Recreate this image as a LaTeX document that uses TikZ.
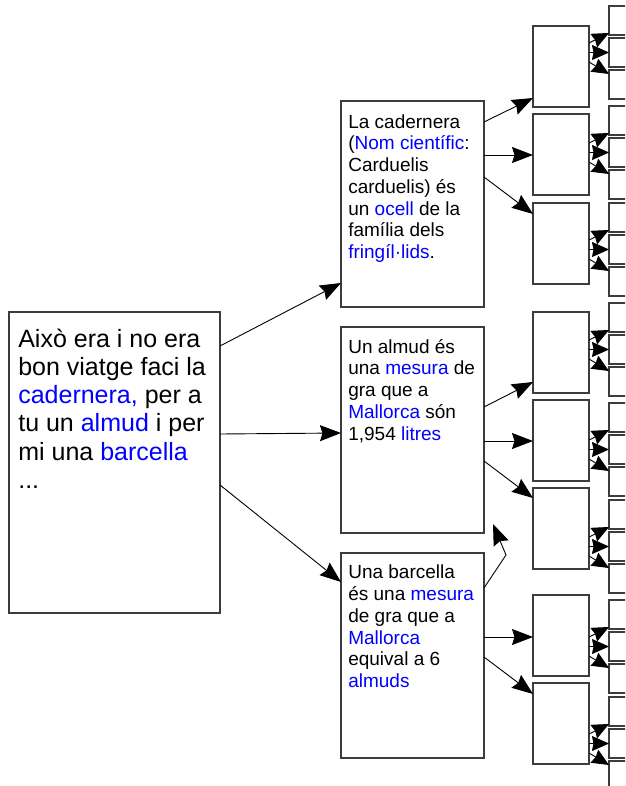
\documentclass[tikz,border=0pt]{standalone}
\usepackage{fontspec}
\setmainfont{Liberation Sans}
\usetikzlibrary{arrows.meta,calc}
\definecolor{lnk}{RGB}{0,0,255}
\definecolor{bord}{RGB}{60,60,60}
\newcommand{\lk}[1]{\textcolor{lnk}{#1}}
\begin{document}
\begin{tikzpicture}[x=1pt,y=-1pt,
  box/.style={draw=bord, line width=1.2pt, inner sep=0pt, outer sep=0pt, anchor=north west, fill=white},
  txt/.style={anchor=north west, inner sep=0pt, outer sep=0pt, align=left},
  bigtxt/.style={txt, font=\fontsize{25}{28.3}\selectfont},
  midtxt/.style={txt, font=\fontsize{19}{21.7}\selectfont},
  arr/.style={draw=black, line width=0.9pt, -{Stealth[length=21pt,width=16pt,inset=2.5pt]}},
  sarr/.style={draw=black, line width=0.9pt, -{Stealth[length=17pt,width=15pt,inset=1.5pt]}}
]
\useasboundingbox (0,0) rectangle (625,786);
\clip (0,0) rectangle (625,786);

% root box
\node[box, minimum width=211pt, minimum height=301pt] (r) at (9,312) {};
\node[bigtxt] (rt) at (18.3,327.2) {\strut Això era i no era\\bon viatge faci la\\\lk{cadernera,} per a\\tu un \lk{almud} i per\\mi una \lk{barcella}\\...};

% level 1 boxes
\node[box, minimum width=143pt, minimum height=206pt] (a) at (341,101) {};
\node[box, minimum width=143pt, minimum height=206pt] (b) at (341,327) {};
\node[box, minimum width=143pt, minimum height=205pt] (c) at (341,553) {};
\node[midtxt] (at) at (348.3,113.1) {\strut La cadernera\\(\lk{Nom científic}:\\Carduelis\\carduelis) és\\un \lk{ocell} de la\\família dels\\\lk{fringíl·lids}.};
\node[midtxt] (bt) at (348.3,338.1) {\strut Un almud és\\una \lk{mesura} de\\gra que a\\\lk{Mallorca} són\\1,954 \lk{litres}};
\node[midtxt] (ct) at (348.3,563.8) {\strut Una barcella\\és una \lk{mesura}\\de gra que a\\\lk{Mallorca}\\equival a 6\\\lk{almuds}};

% level 2 boxes
\foreach \i/\t in {1/26,2/114,3/203,4/312,5/400,6/488,7/595,8/683}
  \node[box, minimum width=56pt, minimum height=81pt] (m\i) at (533,\t) {};

% level 3 boxes
\foreach \i/\g in {1/6,2/106,3/203,4/303,5/403,6/500,7/600,8/697} {
  \node[box, minimum width=45pt, minimum height=29pt] (s\i-a) at (609,\g) {};
  \node[box, minimum width=45pt, minimum height=29pt] (s\i-b) at (609,\g+32) {};
  \node[box, minimum width=45pt, minimum height=29pt] (s\i-c) at (609,\g+64) {};
}

% root -> level 1
\draw[arr] ($(r.north east)+(0,34)$) -- ($(a.north west)+(0,182)$);
\draw[arr] ($(r.north east)+(0,122)$) -- ($(b.north west)+(0,106)$);
\draw[arr] ($(r.north east)+(0,173)$) -- ($(c.north west)+(0,29)$);

% level 1 -> level 2
\draw[arr] ($(a.north east)+(0,21)$) -- ($(m1.north west)+(0,72)$);
\draw[arr] ($(a.north east)+(0,54)$) -- ($(m2.north west)+(0,41)$);
\draw[arr] ($(a.north east)+(0,76)$) -- ($(m3.north west)+(0,11)$);
\draw[arr] ($(b.north east)+(0,80)$) -- ($(m4.north west)+(0,70)$);
\draw[arr] ($(b.north east)+(0,114)$) -- ($(m5.north west)+(0,41)$);
\draw[arr] ($(b.north east)+(0,134)$) -- ($(m6.north west)+(0,10)$);
\coordinate (bend) at (506,555);
\coordinate (loose) at (493,524);
\draw[arr] ($(c.north east)+(0,35)$) -- (bend) -- (loose);
\draw[arr] ($(c.north east)+(0,84)$) -- ($(m7.north west)+(0,42)$);
\draw[arr] ($(c.north east)+(0,104)$) -- ($(m8.north west)+(0,11)$);

% level 2 -> level 3
\foreach \i in {1,...,8} {
  \draw[sarr] ($(m\i.north east |- s\i-a.north)+(0,37)$) -- ($(s\i-a.north west)+(0,27)$);
  \draw[sarr] (m\i.east |- s\i-b.west) -- (s\i-b.west);
  \draw[sarr] ($(m\i.north east |- s\i-a.north)+(0,56)$) -- ($(s\i-c.north west)+(0,4)$);
}
\end{tikzpicture}
\end{document}
